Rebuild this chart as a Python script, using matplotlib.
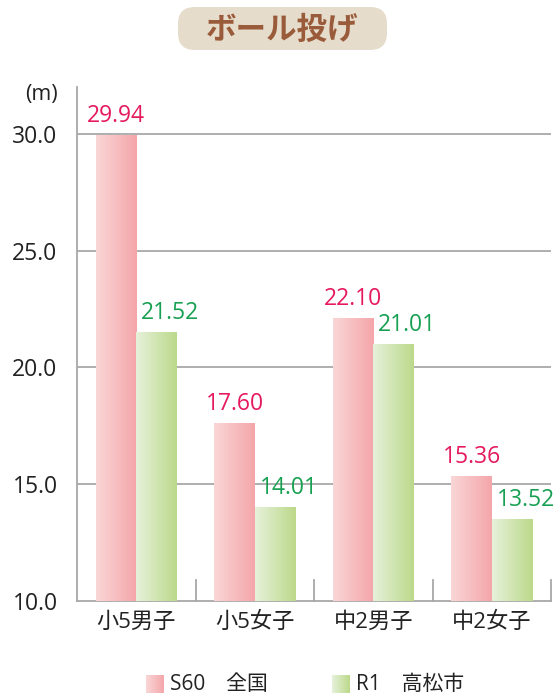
import numpy as np
import matplotlib
matplotlib.use("Agg")
import matplotlib.pyplot as plt
from matplotlib.colors import LinearSegmentedColormap
from matplotlib.patches import FancyBboxPatch

plt.rcParams["font.family"] = ["Open Sans", "Noto Sans CJK JP", "DejaVu Sans"]

# データ
categories = ["小5男子", "小5女子", "中2男子", "中2女子"]
s60_values = [29.94, 17.60, 22.10, 15.36]
r1_values = [21.52, 14.01, 21.01, 13.52]
series_names = ["S60\u3000全国", "R1\u3000高松市"]
title = "ボール投げ"
yticks = [10.0, 15.0, 20.0, 25.0, 30.0]
ymin, ymax = 10, 32

PINK_CMAP = LinearSegmentedColormap.from_list("pink", ["#fad6d6", "#f4a6aa"])
GREEN_CMAP = LinearSegmentedColormap.from_list("green", ["#e6f1da", "#bcd98b"])
PINK_TXT = "#e5195c"
GREEN_TXT = "#18a052"
GRID = "#a8a8a8"
TXT = "#222222"

fig = plt.figure(figsize=(5.6, 7.0), dpi=100)
ax = fig.add_axes([77 / 560, 99 / 700, 474 / 560, 514 / 700])

grad = np.linspace(0, 1, 64).reshape(1, -1)
x = np.arange(len(categories))
w = 0.34


def gradient_bars(xs, vals, cmap):
    heights = np.array(vals) - ymin
    bars = ax.bar(xs, heights, w, bottom=ymin, color="none",
                  edgecolor="none", zorder=3)
    for b in bars:
        x0, y0 = b.get_x(), b.get_y()
        im = ax.imshow(grad, cmap=cmap, aspect="auto",
                       extent=[x0, x0 + b.get_width(), y0, y0 + b.get_height()],
                       zorder=3)
        im.set_clip_path(b)
    return bars


gradient_bars(x - w / 2, s60_values, PINK_CMAP)
gradient_bars(x + w / 2, r1_values, GREEN_CMAP)

for xi, v in zip(x - w / 2, s60_values):
    ax.text(xi, v + 0.3, f"{v:.2f}", ha="center", va="bottom",
            fontsize=16.5, color=PINK_TXT, zorder=4)
for xi, v in zip(x + w / 2, r1_values):
    ax.text(xi - w / 2 + 0.04, v + 0.3, f"{v:.2f}", ha="left", va="bottom",
            fontsize=16.5, color=GREEN_TXT, zorder=4)

ax.set_xlim(-0.5, len(categories) - 0.5)
ax.set_ylim(ymin, ymax)
ax.set_yticks(yticks)
ax.set_yticklabels([f"{t:.1f}" for t in yticks], fontsize=16.5, color=TXT)
ax.tick_params(axis="y", length=0, pad=14)
ax.set_xticks(x)
ax.set_xticklabels(categories, fontsize=16, color=TXT)
ax.tick_params(axis="x", length=0, pad=8)

for t in yticks[1:]:
    ax.axhline(t, color=GRID, lw=1.3, zorder=1)
for b in np.arange(0.5, len(categories), 1.0):
    ax.plot([b, b], [ymin, ymin + 0.9], color=GRID, lw=1.3, zorder=2,
            clip_on=False)

for s in ["top", "right"]:
    ax.spines[s].set_visible(False)
for s in ["left", "bottom"]:
    ax.spines[s].set_color(GRID)
    ax.spines[s].set_linewidth(1.3)

ax.text(-0.04, 1.005, "(m)", transform=ax.transAxes, ha="right", va="top",
        fontsize=15.5, color=TXT)

# タイトル
box = FancyBboxPatch((178 / 560, 1 - 50 / 700), 209 / 560, 43 / 700,
                     boxstyle="round,pad=0,rounding_size=0.03",
                     transform=fig.transFigure, facecolor="#e6dccb",
                     edgecolor="none", mutation_aspect=560 / 700)
fig.patches.append(box)
fig.text(282 / 560, 1 - 30 / 700, title, ha="center", va="center",
         fontsize=22, fontweight="bold", color="#9a5b3a",
         family=["Noto Sans CJK JP"])

# 凡例
for i, (name, cmap) in enumerate(zip(series_names, [PINK_CMAP, GREEN_CMAP])):
    lx = (146 + 186 * i) / 560
    lax = fig.add_axes([lx, 1 - 693 / 700, 18 / 560, 18 / 700])
    lax.imshow(grad, cmap=cmap, aspect="auto")
    lax.axis("off")
    fig.text(lx + 24 / 560, 1 - 684 / 700, name, ha="left", va="center",
             fontsize=15, color=TXT)

fig.savefig("out.png", dpi=100)
